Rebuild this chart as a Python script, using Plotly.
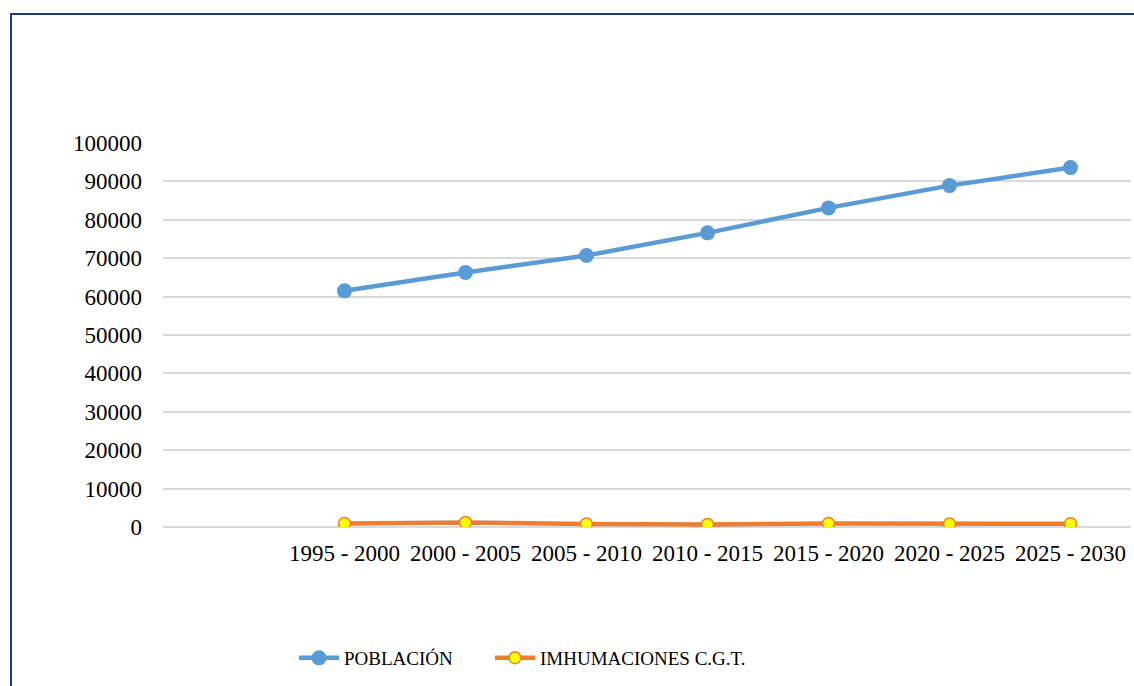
import plotly.graph_objects as go

# Periods on the category axis
periods = ["1995 - 2000", "2000 - 2005", "2005 - 2010", "2010 - 2015",
           "2015 - 2020", "2020 - 2025", "2025 - 2030"]

# Series values
poblacion = [61500, 66300, 70700, 76600, 83100, 88900, 93600]
inhumaciones = [900, 1200, 800, 650, 900, 800, 850]

y_ticks = list(range(0, 100001, 10000))

BLUE = "#5B9BD5"
ORANGE = "#ED7D31"
YELLOW = "#FFFF00"
GRID = "#D9D9D9"
FRAME = "#1F3B6E"
FONT = "Liberation Serif, Times New Roman, DejaVu Serif"

fig = go.Figure()

fig.add_trace(go.Scatter(
    x=periods, y=poblacion, name="POBLACIÓN",
    mode="lines+markers",
    line=dict(color=BLUE, width=4.5),
    marker=dict(color=BLUE, size=15, line=dict(width=0)),
    legend="legend",
))

fig.add_trace(go.Scatter(
    x=periods, y=inhumaciones, name="IMHUMACIONES C.G.T.",
    mode="lines+markers",
    line=dict(color=ORANGE, width=4.5),
    marker=dict(color=YELLOW, size=12, line=dict(color=ORANGE, width=1.5)),
    legend="legend2",
))

# Plot area spans pixels 163..1131 horizontally, 143..527 vertically
L, R, T, B = 163, 3, 143, 159
W, H = 1134, 686
pw, ph = W - L - R, H - T - B

def px_to_paper_x(px):
    return (px - L) / pw

def px_to_paper_y(py):
    return (H - B - py) / ph

# Outer frame around the whole chart (right and bottom edges run off-page)
fig.add_shape(
    type="rect", xref="paper", yref="paper",
    x0=px_to_paper_x(11), x1=px_to_paper_x(1145),
    y0=px_to_paper_y(700), y1=px_to_paper_y(14),
    line=dict(color=FRAME, width=2), fillcolor="rgba(0,0,0,0)",
    layer="below",
)

legend_style = dict(
    orientation="h",
    yanchor="middle",
    font=dict(family=FONT, size=19, color="#000000"),
    itemwidth=40,
    bgcolor="rgba(0,0,0,0)",
    borderwidth=0,
)

fig.update_layout(
    width=W, height=H,
    margin=dict(l=L, r=R, t=T, b=B, pad=0),
    paper_bgcolor="white", plot_bgcolor="white",
    font=dict(family=FONT, size=23, color="#000000"),
    showlegend=True,
    legend=dict(legend_style, x=px_to_paper_x(294), xanchor="left",
                y=px_to_paper_y(658)),
    legend2=dict(legend_style, x=px_to_paper_x(490), xanchor="left",
                 y=px_to_paper_y(658)),
    xaxis=dict(
        type="category",
        categoryorder="array", categoryarray=periods,
        range=[-1.5, len(periods) - 0.5],
        showgrid=False, showline=False, zeroline=False,
        ticks="", tickfont=dict(family=FONT, size=23),
        ticklabelstandoff=10,
    ),
    yaxis=dict(
        range=[0, 100000],
        tickvals=y_ticks, ticktext=[str(v) for v in y_ticks],
        showgrid=True, gridcolor=GRID, gridwidth=1.5,
        zeroline=True, zerolinecolor=GRID, zerolinewidth=1.5,
        showline=False, ticks="",
        tickfont=dict(family=FONT, size=23),
        ticklabelstandoff=20,
    ),
)

fig.write_html("out.html")
